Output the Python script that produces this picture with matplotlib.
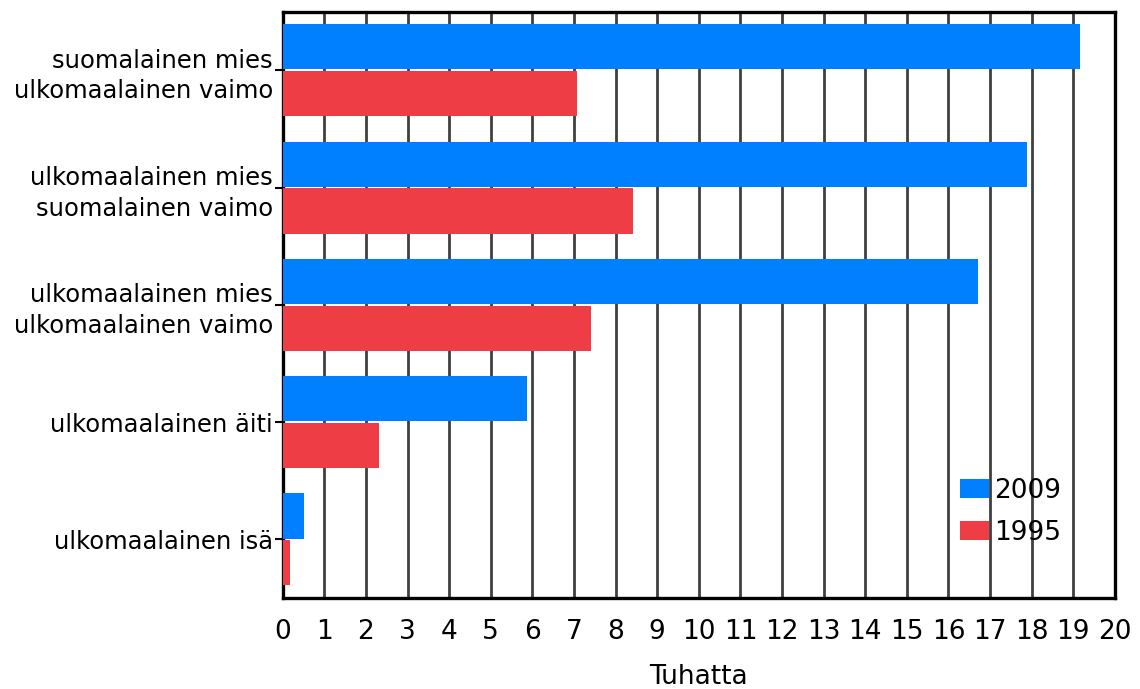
import matplotlib
matplotlib.use("Agg")
import matplotlib.pyplot as plt
import numpy as np

categories = ["suomalainen mies\nulkomaalainen vaimo",
              "ulkomaalainen mies\nsuomalainen vaimo",
              "ulkomaalainen mies\nulkomaalainen vaimo",
              "ulkomaalainen äiti",
              "ulkomaalainen isä"]
values_2009 = [19.15, 17.88, 16.7, 5.88, 0.52]
values_1995 = [7.08, 8.43, 7.4, 2.32, 0.18]
series_names = ["2009", "1995"]
colors = ["#0080FF", "#EF3D45"]
xticks = list(range(0, 21))

fig = plt.figure(figsize=(11.4, 6.89), dpi=100)
ax = fig.add_axes([0.248, 0.132, 0.730, 0.851])

y = np.arange(len(categories))
h = 0.385
ax.barh(y - 0.2, values_2009, height=h, color=colors[0], label=series_names[0], zorder=3)
ax.barh(y + 0.2, values_1995, height=h, color=colors[1], label=series_names[1], zorder=3)

ax.set_xlim(0, 20)
ax.set_ylim(4.5, -0.5)
ax.set_xticks(xticks)
ax.set_xticklabels([str(t) for t in xticks], fontsize=19)
ax.set_yticks(y)
ax.set_yticklabels(categories, fontsize=17.5, ha="right", linespacing=1.35)
ax.tick_params(axis="x", length=0, pad=15)
ax.tick_params(axis="y", length=6, width=1.5, pad=1, color="black")
ax.grid(axis="x", color="#404040", linewidth=2, zorder=0)
ax.set_axisbelow(True)
for s in ax.spines.values():
    s.set_linewidth(2.4)
    s.set_color("black")
ax.set_xlabel("Tuhatta", fontsize=19, labelpad=14)

leg = ax.legend(loc="upper left", bbox_to_anchor=(0.814, 0.205), frameon=False,
                fontsize=19, handlelength=1.1, handleheight=0.75, handletextpad=0.2,
                labelspacing=0.6, borderpad=0, borderaxespad=0)

fig.savefig("out.png", dpi=100)
